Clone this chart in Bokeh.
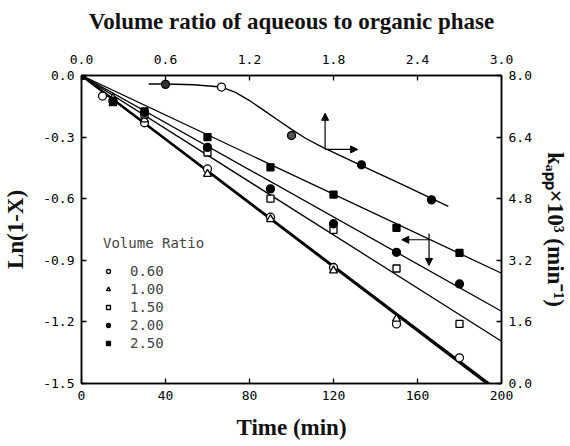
from bokeh.plotting import figure
from bokeh.models import (Range1d, LinearAxis, FixedTicker, PrintfTickFormatter,
                          Arrow, NormalHead, Legend, LegendItem)
from bokeh.embed import file_html
from bokeh.resources import INLINE

# ---- Ln(1-X) versus time (min), one list pair per volume ratio ----
series_labels = ["0.60", "1.00", "1.50", "2.00", "2.50"]
t_060 = [0, 10, 30, 60, 90, 120, 150, 180]
v_060 = [0.0, -0.10, -0.23, -0.455, -0.69, -0.935, -1.21, -1.375]
t_100 = [15, 30, 60, 90, 120, 150]
v_100 = [-0.11, -0.215, -0.48, -0.70, -0.95, -1.185]
t_150 = [30, 60, 90, 120, 150, 180]
v_150 = [-0.19, -0.375, -0.60, -0.752, -0.94, -1.21]
t_200 = [15, 30, 60, 90, 120, 150, 180]
v_200 = [-0.125, -0.18, -0.35, -0.552, -0.722, -0.861, -1.015]
t_250 = [0, 15, 30, 60, 90, 120, 150, 180]
v_250 = [0.0, -0.13, -0.175, -0.30, -0.447, -0.58, -0.742, -0.864]

# fitted straight lines: start and end points
fit_t_start = [0, 0, 0, 0, 0]
fit_v_start = [0.0, 0.0, 0.0, 0.0, 0.0]
fit_t_end = [193, 194, 200, 200, 200]
fit_v_end = [-1.5, -1.5, -1.294, -1.148, -0.963]

# ---- k_app x 10^3 versus volume ratio ----
ratio = [0.6, 1.0, 1.5, 2.0, 2.5]
kapp = [7.77, 7.70, 6.44, 5.68, 4.77]
curve_ratio = [0.48, 0.6, 0.8, 1.0, 1.1, 1.2, 1.3, 1.4, 1.5, 1.6, 1.72, 2.0, 2.3, 2.62]
curve_k = [7.78, 7.78, 7.76, 7.70, 7.56, 7.35, 7.10, 6.85, 6.60, 6.37, 6.14, 5.66, 5.15, 4.60]

# tick values
time_ticks = [0, 40, 80, 120, 160, 200]
ln_ticks = [0.0, -0.3, -0.6, -0.9, -1.2, -1.5]
ratio_ticks = [0.0, 0.6, 1.2, 1.8, 2.4, 3.0]
k_ticks = [0.0, 1.6, 3.2, 4.8, 6.4, 8.0]

p = figure(width=570, height=446, x_range=Range1d(0, 200), y_range=Range1d(-1.5, 0.0),
           output_backend="svg", toolbar_location=None,
           min_border_left=81, min_border_right=67, min_border_top=75, min_border_bottom=63)
p.extra_x_ranges = {"ratio": Range1d(0, 3.0)}
p.extra_y_ranges = {"k": Range1d(0, 8.0)}
p.xgrid.visible = False
p.ygrid.visible = False
p.outline_line_color = "black"
p.outline_line_width = 1.5

bottom_axis = p.below[0]
left_axis = p.left[0]
top_axis = LinearAxis(x_range_name="ratio", axis_label="Volume ratio of aqueous to organic phase")
right_axis = LinearAxis(y_range_name="k", axis_label="kₐₚₚ×10³ (min⁻¹)")
p.add_layout(top_axis, "above")
p.add_layout(right_axis, "right")
bottom_axis.axis_label = "Time (min)"
left_axis.axis_label = "Ln(1-X)"


def style_axis(ax, ticks, fmt):
    ax.ticker = FixedTicker(ticks=ticks)
    ax.formatter = PrintfTickFormatter(format=fmt)
    ax.major_tick_in = 5
    ax.major_tick_out = 0
    ax.minor_tick_line_color = None
    ax.axis_line_color = "black"
    ax.axis_line_width = 1.5
    ax.major_tick_line_color = "black"
    ax.major_tick_line_width = 1.3
    ax.major_label_text_font = "DejaVu Sans Mono"
    ax.major_label_text_font_size = "13px"
    ax.major_label_text_color = "black"
    ax.major_label_standoff = 7
    ax.axis_label_text_font = "Liberation Serif"
    ax.axis_label_text_font_style = "bold"
    ax.axis_label_text_font_size = "23px"
    ax.axis_label_text_color = "#111111"


style_axis(bottom_axis, time_ticks, "%d")
style_axis(left_axis, ln_ticks, "%.1f")
style_axis(top_axis, ratio_ticks, "%.1f")
style_axis(right_axis, k_ticks, "%.1f")
bottom_axis.axis_label_standoff = 12
left_axis.axis_label_standoff = 12
top_axis.major_label_standoff = 12
top_axis.axis_label_standoff = 18
right_axis.axis_label_standoff = 8

# fitted lines
widths = [2.2, 2.2, 1.3, 1.3, 1.3]
for i in range(5):
    p.line([fit_t_start[i], fit_t_end[i]], [fit_v_start[i], fit_v_end[i]],
           line_color="black", line_width=widths[i])

# data points
r060 = p.scatter(t_060, v_060, marker="circle", size=8, fill_color="white",
                 line_color="black", line_width=1.3)
r100 = p.scatter(t_100, v_100, marker="triangle", size=8, fill_color="white",
                 line_color="black", line_width=1.3)
r150 = p.scatter(t_150, v_150, marker="square", size=7, fill_color="white",
                 line_color="black", line_width=1.3)
r200 = p.scatter(t_200, v_200, marker="circle", size=8, fill_color="black",
                 line_color="black", line_width=1.3)
r250 = p.scatter(t_250, v_250, marker="square", size=7, fill_color="black",
                 line_color="black", line_width=1.3)

# k_app curve and points (top / right axes)
p.line(curve_ratio, curve_k, x_range_name="ratio", y_range_name="k",
       line_color="black", line_width=1.4)
k_fill = ["#333333", "white", "#555555", "black", "black"]
p.scatter(ratio, kapp, x_range_name="ratio", y_range_name="k", marker="circle",
          size=8, fill_color=k_fill, line_color="black", line_width=1.3)

# arrows showing which axes apply
head = dict(size=7, fill_color="black", line_color="black")
p.add_layout(Arrow(x_start=116, y_start=-0.36, x_end=116, y_end=-0.184,
                   end=NormalHead(**head), line_width=1.2))
p.add_layout(Arrow(x_start=116, y_start=-0.36, x_end=131.5, y_end=-0.36,
                   end=NormalHead(**head), line_width=1.2))
p.add_layout(Arrow(x_start=165.5, y_start=-0.80, x_end=152.5, y_end=-0.80,
                   end=NormalHead(**head), line_width=1.2))
p.add_layout(Arrow(x_start=165.5, y_start=-0.77, x_end=165.5, y_end=-0.925,
                   end=NormalHead(**head), line_width=1.2))

legend = Legend(items=[LegendItem(label=lab, renderers=[r])
                       for lab, r in zip(series_labels, [r060, r100, r150, r200, r250])],
                title="Volume Ratio", location=(22, 32))
legend.title_text_font = "DejaVu Sans Mono"
legend.title_text_font_size = "14px"
legend.title_text_font_style = "normal"
legend.title_standoff = 12
legend.label_text_font = "DejaVu Sans Mono"
legend.label_text_font_size = "14px"
legend.glyph_width = 10
legend.glyph_height = 16
legend.label_height = 16
legend.label_standoff = 17
legend.spacing = 2
legend.padding = 0
legend.margin = 0
legend.border_line_color = None
legend.background_fill_alpha = 0
p.add_layout(legend)

open("out.html", "w").write(file_html(p, INLINE))
